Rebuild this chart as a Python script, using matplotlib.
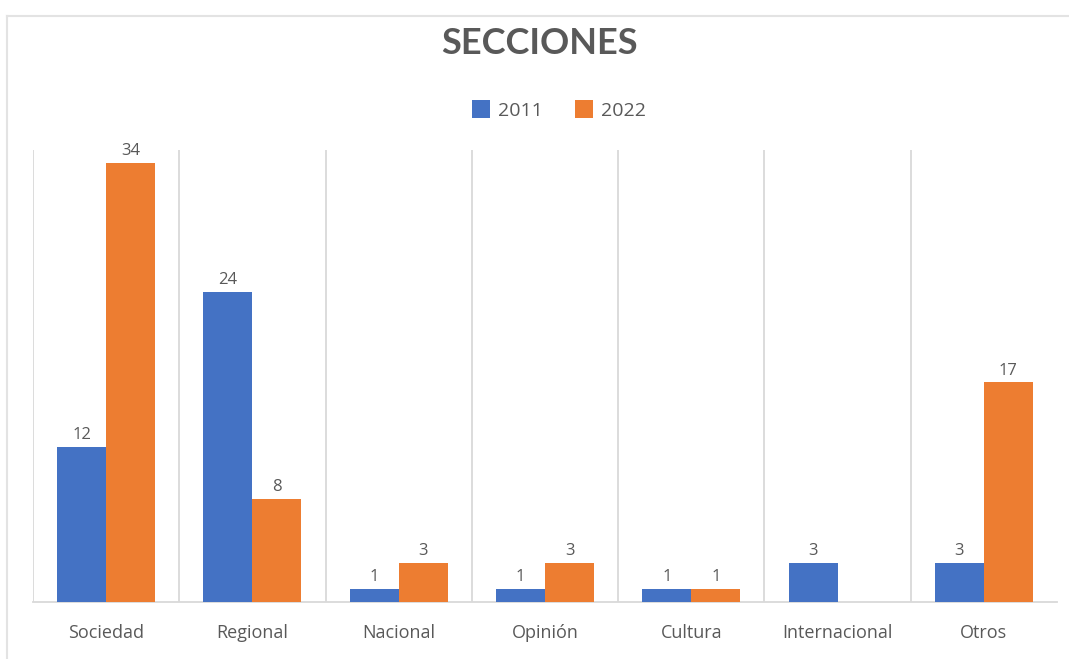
import matplotlib
matplotlib.use("Agg")
import matplotlib.pyplot as plt
import numpy as np
from matplotlib.patches import Patch
from matplotlib.lines import Line2D

categories = ["Sociedad", "Regional", "Nacional", "Opinión", "Cultura", "Internacional", "Otros"]
series_names = ["2011", "2022"]
values_2011 = [12, 24, 1, 1, 1, 3, 3]
values_2022 = [34, 8, 3, 3, 1, None, 17]

BLUE = "#4472C4"
ORANGE = "#ED7D31"
GREY_TEXT = "#595959"
GRID = "#D9D9D9"

plt.rcParams['font.family'] = ['Open Sans', 'DejaVu Sans']

W, H = 1069, 659
fig = plt.figure(figsize=(W / 100, H / 100), dpi=100)
fig.patch.set_facecolor("white")

# chart frame (extends past right and bottom edges)
fig.add_artist(Line2D([6.5 / W, 1.0], [1 - 15.5 / H, 1 - 15.5 / H], color="#E3E3E3", lw=1.5,
                      transform=fig.transFigure))
fig.add_artist(Line2D([6.5 / W, 6.5 / W], [0, 1 - 15.5 / H], color="#E3E3E3", lw=1.5,
                      transform=fig.transFigure))

ax = fig.add_axes([33 / W, (H - 602) / H, (1057 - 33) / W, (602 - 150) / H])
n = len(categories)
x = np.arange(n)
bw = 0.335

for i in range(n):
    v1 = values_2011[i]
    v2 = values_2022[i]
    if v1:
        ax.bar(x[i] - bw / 2, v1, width=bw, color=BLUE, zorder=3)
        ax.text(x[i] - bw / 2, v1 + 0.3, str(v1), ha="center", va="bottom",
                fontsize=12, color=GREY_TEXT)
    if v2:
        ax.bar(x[i] + bw / 2, v2, width=bw, color=ORANGE, zorder=3)
        ax.text(x[i] + bw / 2, v2 + 0.3, str(v2), ha="center", va="bottom",
                fontsize=12, color=GREY_TEXT)

ax.set_xlim(-0.5, n - 0.5)
ax.set_ylim(0, 35)
for b in range(n):
    ax.axvline(b - 0.5, color=GRID, lw=1.3, zorder=1)

for s in ["top", "right", "left"]:
    ax.spines[s].set_visible(False)
ax.spines["bottom"].set_color(GRID)
ax.spines["bottom"].set_linewidth(1.3)
ax.set_yticks([])
ax.set_xticks(x)
ax.set_xticklabels(categories, fontsize=13, color=GREY_TEXT)
ax.tick_params(axis="x", length=0, pad=16)

fig.text(540 / W, 1 - 43 / H, "SECCIONES", ha="center", va="center",
         fontsize=26, fontweight="bold", color=GREY_TEXT, family=["Lato", "DejaVu Sans"])

handles = [Patch(facecolor=BLUE, label=series_names[0]),
           Patch(facecolor=ORANGE, label=series_names[1])]
fig.legend(handles=handles, loc="center", bbox_to_anchor=(559 / W, 1 - 110 / H), ncol=2,
           frameon=False, fontsize=14, labelcolor=GREY_TEXT, handlelength=0.9,
           handleheight=1.0, handletextpad=0.4, columnspacing=1.7)

fig.savefig("out.png", dpi=100, facecolor="white")
